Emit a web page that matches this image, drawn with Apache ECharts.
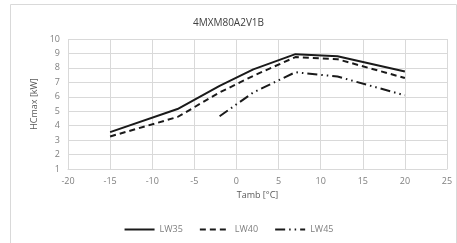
<!doctype html>
<html>
<head>
<meta charset="UTF-8">
<title></title>
<script src="https://cdn.jsdelivr.net/npm/echarts@6/dist/echarts.min.js"></script>
<style>
  html, body { margin: 0; padding: 0; background: #fff; }
  #main { width: 457px; height: 243px; }
</style>
</head>
<body>
<div id="main"></div>
<script>
var temps = [-15, -7, -2, 2, 7, 12, 20];
var lw35 = [3.55, 5.15, 6.75, 7.9, 8.95, 8.8, 7.75];
var lw40 = [3.25, 4.6, 6.3, 7.45, 8.75, 8.6, 7.3];
var lw45 = [null, null, 4.65, 6.3, 7.7, 7.4, 6.1];
var names = ['LW35', 'LW40', 'LW45'];

function pairs(vals) {
  var out = [];
  for (var i = 0; i < temps.length; i++) {
    if (vals[i] != null) out.push([temps[i], vals[i]]);
  }
  return out;
}

var txt = '#595959';
var font = 'Open Sans';
var chart = echarts.init(document.getElementById('main'));
chart.setOption({
  animation: false,
  textStyle: { fontFamily: font },
  graphic: [{
    type: 'rect', shape: { x: 10.5, y: 4.5, width: 446, height: 240 },
    style: { fill: 'none', stroke: '#d9d9d9', lineWidth: 1 }, silent: true
  }],
  title: {
    text: '4MXM80A2V1B', left: 'center', top: 13,
    textStyle: { fontFamily: font, fontSize: 10, fontWeight: 'normal', color: '#404040' }
  },
  grid: { left: 68, right: 10, top: 39, bottom: 74 },
  legend: {
    bottom: 4, left: 'center', itemWidth: 30, itemHeight: 10, itemGap: 16,
    itemStyle: { color: 'rgba(0,0,0,0)', borderWidth: 0, opacity: 0 },
    textStyle: { fontFamily: font, fontSize: 9, color: '#7f7f7f' },
    data: names
  },
  xAxis: {
    type: 'value', min: -20, max: 25, interval: 5,
    name: 'Tamb [°C]', nameLocation: 'middle', nameGap: 21,
    nameTextStyle: { fontFamily: font, fontSize: 9, color: txt },
    axisLine: { lineStyle: { color: '#d9d9d9' } },
    axisTick: { show: false },
    axisLabel: { fontFamily: font, fontSize: 9, color: '#7f7f7f', margin: 8 },
    splitLine: { lineStyle: { color: '#d9d9d9' } }
  },
  yAxis: {
    type: 'value', min: 1, max: 10, interval: 1,
    name: 'HCmax [kW]', nameLocation: 'middle', nameGap: 24,
    nameTextStyle: { fontFamily: font, fontSize: 9, color: txt },
    axisLine: { show: false },
    axisTick: { show: false },
    axisLabel: { fontFamily: font, fontSize: 9, color: '#7f7f7f', margin: 8 },
    splitLine: { lineStyle: { color: '#d9d9d9' } }
  },
  series: [
    { name: 'LW35', type: 'line', data: pairs(lw35), symbol: 'none',
      lineStyle: { color: '#1a1a1a', width: 2, type: 'solid' }, itemStyle: { color: '#1a1a1a' } },
    { name: 'LW40', type: 'line', data: pairs(lw40), symbol: 'none',
      lineStyle: { color: '#1a1a1a', width: 2, type: [6, 4] }, itemStyle: { color: '#1a1a1a' } },
    { name: 'LW45', type: 'line', data: pairs(lw45), symbol: 'none',
      lineStyle: { color: '#1a1a1a', width: 2, type: [10, 4, 1.5, 4, 1.5, 4] }, itemStyle: { color: '#1a1a1a' } }
  ]
});
</script>
</body>
</html>
